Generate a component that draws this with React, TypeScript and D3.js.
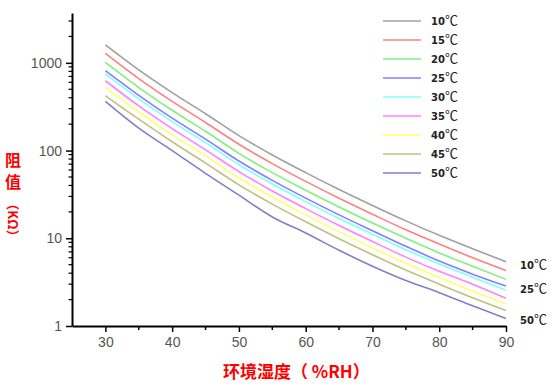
import { useEffect, useRef } from "react";
import * as d3 from "d3";

const humidity = [30, 35, 40, 45, 50, 55, 60, 65, 70, 75, 80, 85, 90];

const r10 = [1600, 830, 457, 263, 148, 89, 56, 36, 23.7, 15.8, 10.8, 7.6, 5.4];
const r15 = [1280, 660, 363, 209, 118, 71, 44.5, 28.6, 18.8, 12.5, 8.6, 6.0, 4.3];
const r20 = [1010, 523, 288, 166, 93, 56, 35.3, 22.7, 14.9, 10.0, 6.8, 4.8, 3.4];
const r25 = [815, 426, 234, 135, 76, 45.7, 28.7, 18.5, 12.2, 8.1, 5.5, 3.9, 2.85];
const r30 = [750, 388, 214, 123, 69, 41.6, 26.2, 16.8, 11.1, 7.4, 5.1, 3.6, 2.55];
const r35 = [625, 323, 178, 102, 57.6, 34.6, 21.8, 14.0, 9.2, 6.1, 4.2, 3.0, 2.07];
const r40 = [525, 275, 151, 87, 49, 29.5, 18.5, 11.9, 7.8, 5.2, 3.6, 2.5, 1.78];
const r45 = [422, 228, 126, 72, 40.7, 24.5, 15.4, 9.9, 6.5, 4.35, 3.0, 2.1, 1.5];
const r50 = [363, 180, 100, 55, 31, 17.5, 11.5, 7.3, 4.8, 3.3, 2.4, 1.7, 1.22];

const seriesNames = ["10", "15", "20", "25", "30", "35", "40", "45", "50"];
const seriesColors = ["#a0a0a0", "#ff8080", "#80f080", "#8080ff", "#80ffff", "#ff80ff", "#ffff70", "#c0c080", "#8080c8"];
const endLabels = ["10", "25", "50"];

const xTicks = [30, 40, 50, 60, 70, 80, 90];
const xMinor = [35, 45, 55, 65, 75, 85];
const yTicks = [1, 10, 100, 1000];

function App() {
  const svgRef = useRef<SVGSVGElement>(null);

  useEffect(() => {
    const svg = d3.select(svgRef.current);
    svg.selectAll("*").remove();

    const series = [r10, r15, r20, r25, r30, r35, r40, r45, r50];

    const x = d3.scaleLinear().domain([25, 90]).range([72, 506]);
    const y = d3.scaleLog().domain([1, 3700]).range([326, 13]);

    const axisFont = "'Liberation Sans', Arial, sans-serif";

    // curves
    const line = d3.line<number>()
      .x((_, i) => x(humidity[i]))
      .y(d => y(d))
      .curve(d3.curveMonotoneX);

    svg.append("g")
      .selectAll("path")
      .data(series)
      .join("path")
      .attr("d", d => line(d))
      .attr("fill", "none")
      .attr("stroke", (_, i) => seriesColors[i])
      .attr("stroke-width", 1.6);

    // x axis
    const gx = svg.append("g").attr("transform", "translate(0,326)");
    gx.call(d3.axisBottom(x).tickValues(xTicks).tickSize(6).tickSizeOuter(0).tickPadding(5));
    gx.append("g")
      .selectAll("line")
      .data(xMinor)
      .join("line")
      .attr("x1", d => x(d))
      .attr("x2", d => x(d))
      .attr("y1", 0)
      .attr("y2", 4)
      .attr("stroke", "#000")
      .attr("stroke-width", 1.5);

    // y axis
    const minor: number[] = [];
    [1, 10, 100, 1000].forEach(dec => {
      for (let k = 2; k <= 9; k++) if (dec * k <= 3700) minor.push(dec * k);
    });
    const gy = svg.append("g").attr("transform", "translate(72,0)");
    gy.call(d3.axisLeft(y).tickValues(yTicks).tickFormat(d3.format("d")).tickSize(6).tickSizeOuter(0).tickPadding(4));
    gy.append("g")
      .selectAll("line")
      .data(minor)
      .join("line")
      .attr("x1", 0)
      .attr("x2", -3.5)
      .attr("y1", d => y(d))
      .attr("y2", d => y(d))
      .attr("stroke", "#000")
      .attr("stroke-width", 1.2);

    [gx, gy].forEach(g => {
      g.select(".domain").attr("stroke", "#000").attr("stroke-width", 2);
      g.selectAll(".tick line").attr("stroke", "#000").attr("stroke-width", 1.5);
      g.selectAll(".tick text")
        .attr("fill", "#555")
        .style("font-family", axisFont)
        .style("font-size", "14px");
    });

    // legend
    const legend = svg.append("g");
    const rows = legend.selectAll("g")
      .data(seriesNames)
      .join("g")
      .attr("transform", (_, i) => `translate(383,${21 + i * 19})`);
    rows.append("line")
      .attr("x1", 0)
      .attr("x2", 38)
      .attr("stroke", (_, i) => seriesColors[i])
      .attr("stroke-width", 1.6);
    const lt = rows.append("text")
      .attr("x", 48)
      .attr("y", 4)
      .attr("fill", "#222");
    lt.append("tspan")
      .style("font-family", "'DejaVu Sans', sans-serif")
      .style("font-weight", "bold")
      .style("font-size", "10px")
      .text(d => d);
    lt.append("tspan")
      .style("font-family", "'Noto Sans CJK SC', sans-serif")
      .style("font-size", "13px")
      .text("℃");

    // labels at curve ends
    const endIdx = endLabels.map(n => seriesNames.indexOf(n));
    const et = svg.append("g")
      .selectAll("text")
      .data(endIdx)
      .join("text")
      .attr("x", 520)
      .attr("y", (d, i) => [269, 293, 324][i])
      .attr("fill", "#222");
    et.append("tspan")
      .style("font-family", "'DejaVu Sans', sans-serif")
      .style("font-weight", "bold")
      .style("font-size", "10px")
      .text(d => seriesNames[d]);
    et.append("tspan")
      .style("font-family", "'Noto Sans CJK SC', sans-serif")
      .style("font-size", "13px")
      .text("℃");

    // axis titles
    const titleFont = "'Noto Sans CJK SC', sans-serif";
    svg.append("text")
      .attr("x", 223)
      .attr("y", 378)
      .attr("fill", "#ff0000")
      .style("font-family", titleFont)
      .style("font-weight", "bold")
      .style("font-size", "17px")
      .text("环境湿度（ %RH）");

    svg.append("g")
      .selectAll("text")
      .data(["阻", "值"])
      .join("text")
      .attr("x", 13)
      .attr("y", (_, i) => 166 + i * 22)
      .attr("text-anchor", "middle")
      .attr("fill", "#ff0000")
      .style("font-family", titleFont)
      .style("font-weight", "bold")
      .style("font-size", "16px")
      .text(d => d);

    svg.append("text")
      .attr("transform", "translate(8,220) rotate(90)")
      .attr("text-anchor", "middle")
      .attr("fill", "#ff0000")
      .style("font-family", titleFont)
      .style("font-weight", "bold")
      .style("font-size", "13px")
      .text("（KΩ）");
  }, []);

  return (
    <svg
      ref={svgRef}
      width={555}
      height={385}
      style={{ position: "absolute", left: 0, top: 0, background: "#fff" }}
    />
  );
}

export default App;
